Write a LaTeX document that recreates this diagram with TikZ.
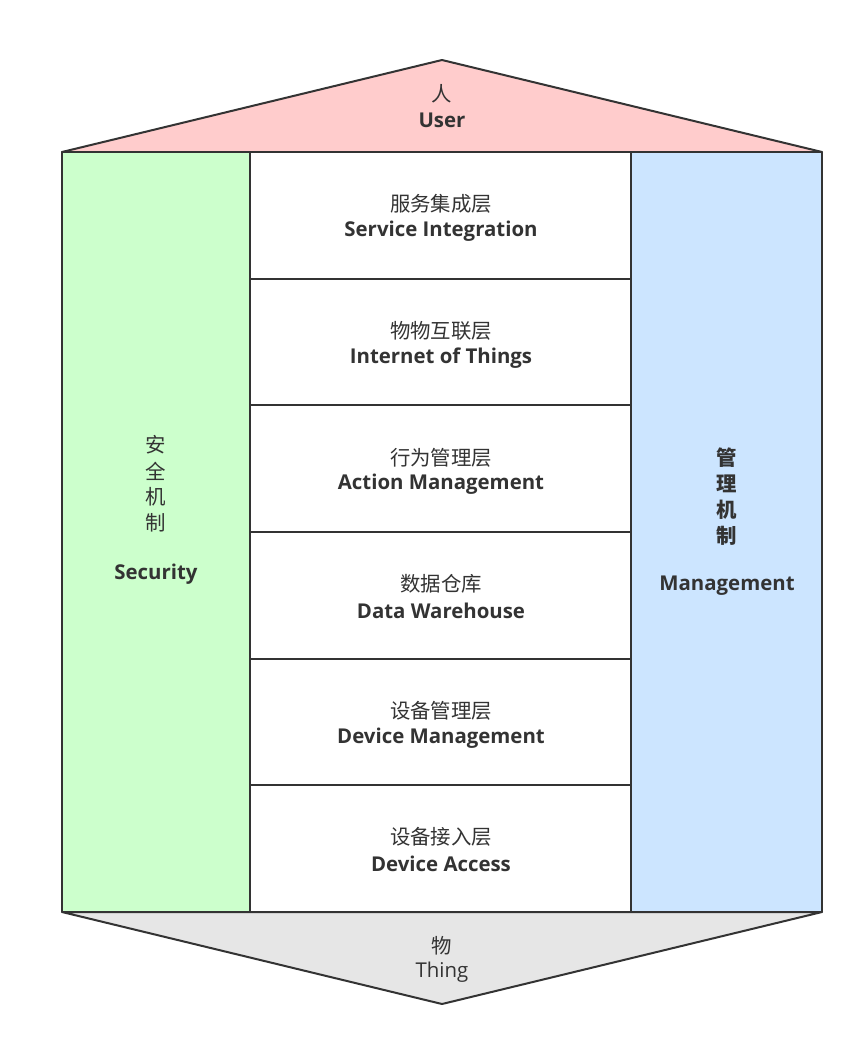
\documentclass[tikz,border=0pt]{standalone}
\usepackage{fontspec}
\setmainfont{Open Sans}
\newfontfamily\cjk{Noto Sans CJK SC}
\definecolor{lineC}{HTML}{333333}
\definecolor{txtC}{HTML}{333333}
\definecolor{userC}{HTML}{FFCCCC}
\definecolor{secC}{HTML}{CCFFCC}
\definecolor{mgmtC}{HTML}{CCE5FF}
\definecolor{thingC}{HTML}{E6E6E6}
\begin{document}
\begin{tikzpicture}[x=0.75pt,y=-0.75pt,
  shapeline/.style={draw=lineC,line width=1.5pt,line join=round},
  lbl/.style={text=txtC,inner sep=0pt,align=center},
  zh/.style={lbl,font=\cjk\fontsize{15.3}{18}\selectfont},
  zhb/.style={lbl,font=\cjk\bfseries\fontsize{15.3}{18}\selectfont},
  en/.style={lbl,font=\bfseries\fontsize{15.3}{18}\selectfont},
  enr/.style={lbl,font=\fontsize{15.3}{18}\selectfont}]
\useasboundingbox[fill=white] (0,0) rectangle (865,1046);
% roof and base
\path[shapeline,fill=userC] (62,152) -- (442,60) -- (822,152) -- cycle;
\path[shapeline,fill=thingC] (62,912) -- (442,1004) -- (822,912) -- cycle;
% side columns
\path[shapeline,fill=secC] (62,152) rectangle (250,912);
\path[shapeline,fill=mgmtC] (631,152) rectangle (822,912);
% middle layers
\foreach \i in {0,...,5}{
  \path[shapeline,fill=white] (250,{152+\i*126.67}) rectangle (631,{152+(\i+1)*126.67});
}
% texts
\node[zh] (userzh) at (442,94) {人};
\node[en] (useren) at (442,120) {User};
\node[zh] (thingzh) at (442,946) {物};
\node[enr] (thingen) at (442,972) {Thing};

\node[zh] (l1zh) at (441,204) {服务集成层};
\node[en] (l1en) at (441,231) {Service Integration};
\node[zh] (l2zh) at (441,331) {物物互联层};
\node[en] (l2en) at (441,358) {Internet of Things};
\node[zh] (l3zh) at (441,458) {行为管理层};
\node[en] (l3en) at (441,484) {Action Management};
\node[zh] (l4zh) at (441,584) {数据仓库};
\node[en] (l4en) at (441,611) {Data Warehouse};
\node[zh] (l5zh) at (441,711) {设备管理层};
\node[en] (l5en) at (441,738) {Device Management};
\node[zh] (l6zh) at (441,837) {设备接入层};
\node[en] (l6en) at (441,864) {Device Access};

\node[zh] (s1) at (156,445) {安};
\node[zh] (s2) at (156,471) {全};
\node[zh] (s3) at (156,497) {机};
\node[zh] (s4) at (156,523) {制};
\node[en] (sec) at (156,574) {Security};

\node[zhb] (m1) at (727,458) {管};
\node[zhb] (m2) at (727,484) {理};
\node[zhb] (m3) at (727,510) {机};
\node[zhb] (m4) at (727,536) {制};
\node[en] (mgmt) at (727,586) {Management};
\end{tikzpicture}
\end{document}
